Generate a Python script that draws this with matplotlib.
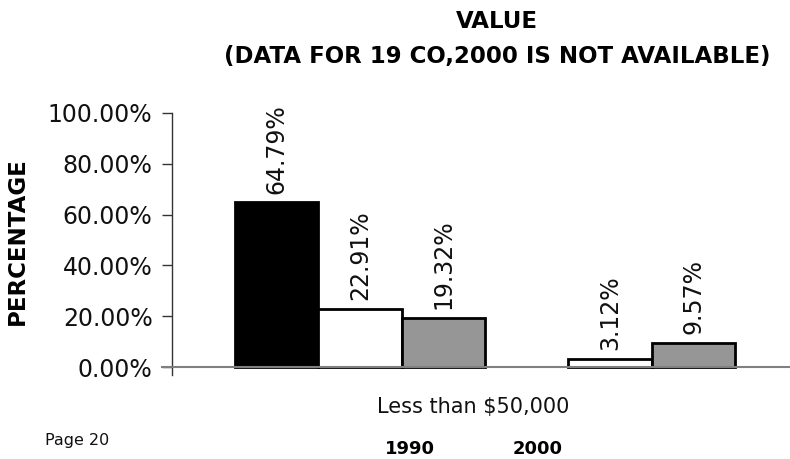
import matplotlib
matplotlib.use("Agg")
import matplotlib.pyplot as plt
import numpy as np

# Data
years = ["1990", "2000"]
series_black = [64.79, np.nan]   # 2000 value not available
series_white = [22.91, 3.12]
series_gray = [19.32, 9.57]
yticks = [0, 20, 40, 60, 80, 100]
category_label = "Less than $50,000"
title_lines = ["VALUE", "(DATA FOR 19 CO,2000 IS NOT AVAILABLE)"]

fig = plt.figure(figsize=(7.9, 4.59), dpi=100)
ymin = -3.1
ax = fig.add_axes([172/790, 1 - 375/459, 1 - 172/790, (375 - 113)/459])

x = np.arange(len(years))
w = 1/3
specs = [(series_black, "black", -w), (series_white, "white", 0), (series_gray, "#969696", w)]
for vals, col, off in specs:
    for xi, v in zip(x, vals):
        if np.isnan(v):
            continue
        ax.bar(xi + off, v, width=w, color=col, edgecolor="black", linewidth=2, zorder=3)
        ax.text(xi + off, v + 3.5, f"{v:.2f}%", rotation=90, ha="center", va="bottom",
                fontsize=17, family="DejaVu Sans", color="#111111")

ax.set_xlim(-0.752, 1.72)
ax.set_ylim(ymin, 100)
ax.set_yticks(yticks)
ax.set_yticklabels([f"{t:.2f}%" for t in yticks], fontsize=17, family="DejaVu Sans", color="#111111")
ax.set_xticks([])
for s in ["top", "right", "bottom"]:
    ax.spines[s].set_visible(False)
ax.spines["left"].set_color("#333333")
ax.spines["left"].set_linewidth(1)
ax.spines["left"].set_bounds(ymin, 100)
ax.tick_params(axis="y", direction="out", length=7, width=1, color="#333333", pad=7)
ax.axhline(0, color="#808080", linewidth=1.5, zorder=4)
ax.plot([-0.79, -0.752], [0, 0], color="#808080", lw=1.5, clip_on=False)

fig.text(17/790, 1 - 241/459, "PERCENTAGE", rotation=90, ha="center", va="center",
         fontsize=16.5, fontweight="bold", family="DejaVu Sans")

fig.text(497/790, 1 - 22/459, title_lines[0], ha="center", va="center", fontsize=16.5,
         fontweight="bold", family="DejaVu Sans")
fig.text(497/790, 1 - 57/459, title_lines[1], ha="center", va="center", fontsize=16.5,
         fontweight="bold", family="DejaVu Sans")

fig.text(473/790, 1 - 407/459, category_label, ha="center", va="center", fontsize=15,
         family="DejaVu Sans", color="#111111")
fig.text(45/790, 1 - 440/459, "Page 20", ha="left", va="center", fontsize=11.5,
         family="DejaVu Sans", color="#111111")
fig.text(410/790, 1 - 449/459, years[0], ha="center", va="center", fontsize=13,
         fontweight="bold", family="DejaVu Sans")
fig.text(538/790, 1 - 449/459, years[1], ha="center", va="center", fontsize=13,
         fontweight="bold", family="DejaVu Sans")

fig.savefig("out.png", dpi=100)
